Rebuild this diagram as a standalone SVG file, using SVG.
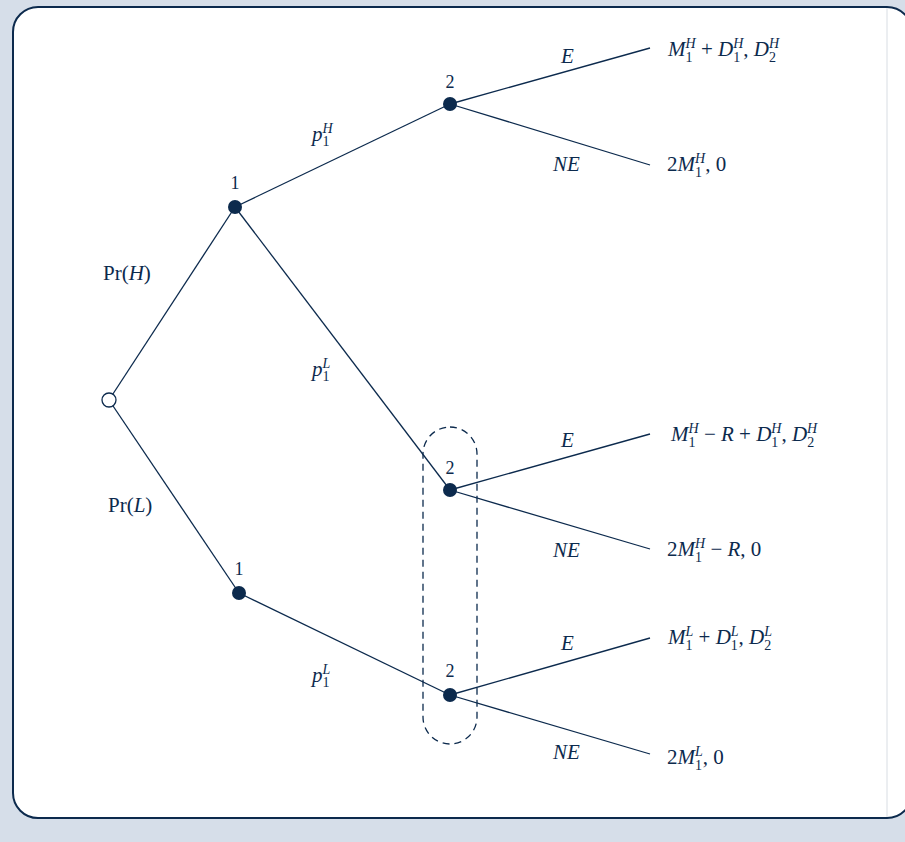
<svg xmlns="http://www.w3.org/2000/svg" width="905" height="842" viewBox="0 0 905 842">
<style>
.t{font-family:"Liberation Serif","DejaVu Serif",serif;font-size:21px;fill:#0c2a4d}
.n{font-family:"Liberation Serif","DejaVu Serif",serif;font-size:18px;fill:#0c2a4d;text-anchor:middle}
.i{font-style:italic}
.s{font-size:14px;font-style:italic}
.d{font-size:14px}
.edge{stroke:#0c2a4d;stroke-width:1.3;fill:none}
.dot{fill:#0c2a4d}
</style>
<rect x="0" y="0" width="905" height="842" fill="#d6dee9"/>
<rect x="13" y="7" width="899" height="811" rx="25" fill="#ffffff" stroke="#0c2a4d" stroke-width="2"/>
<line x1="887" y1="8" x2="887" y2="817" stroke="#d8dde3" stroke-width="1"/>
<g id="connectors">
<line class="edge" x1="109" y1="400" x2="235" y2="207"/>
<line class="edge" x1="109" y1="400" x2="239" y2="593"/>
<line class="edge" x1="235" y1="207" x2="450" y2="104"/>
<line class="edge" x1="235" y1="207" x2="450" y2="490"/>
<line class="edge" x1="239" y1="593" x2="450" y2="695"/>
<line class="edge" x1="450" y1="104" x2="650" y2="48"/>
<line class="edge" x1="450" y1="104" x2="650" y2="165"/>
<line class="edge" x1="450" y1="490" x2="650" y2="434"/>
<line class="edge" x1="450" y1="490" x2="650" y2="549"/>
<line class="edge" x1="450" y1="695" x2="650" y2="638"/>
<line class="edge" x1="450" y1="695" x2="650" y2="754"/>
</g>
<g id="infoset">
<rect x="423" y="427" width="54" height="317" rx="27" fill="none" stroke="#0c2a4d" stroke-width="1.3" stroke-dasharray="7,5"/>
</g>
<g id="root"><circle cx="109" cy="400" r="7" fill="#ffffff" stroke="#0c2a4d" stroke-width="1.3"/></g>
<g id="n1H"><circle class="dot" cx="235" cy="207" r="7"/><text class="n" x="235" y="189">1</text></g>
<g id="n1L"><circle class="dot" cx="239" cy="593" r="7"/><text class="n" x="239" y="575">1</text></g>
<g id="n2top"><circle class="dot" cx="450" cy="104" r="7"/><text class="n" x="450" y="88">2</text></g>
<g id="n2mid"><circle class="dot" cx="450" cy="490" r="7"/><text class="n" x="450" y="474">2</text></g>
<g id="n2bot"><circle class="dot" cx="450" cy="695" r="7"/><text class="n" x="450" y="677">2</text></g>
<g id="branch-labels">
<text class="t" x="103" y="280">Pr(<tspan class="i">H</tspan>)</text>
<text class="t" x="108" y="512">Pr(<tspan class="i">L</tspan>)</text>
<text class="t" x="312" y="141"><tspan class="i">p</tspan><tspan class="s" dy="-8">H</tspan><tspan class="d" dx="-10.1" dy="13">1</tspan></text>
<text class="t" x="312" y="376"><tspan class="i">p</tspan><tspan class="s" dy="-8">L</tspan><tspan class="d" dx="-7.8" dy="13">1</tspan></text>
<text class="t" x="312" y="682"><tspan class="i">p</tspan><tspan class="s" dy="-8">L</tspan><tspan class="d" dx="-7.8" dy="13">1</tspan></text>
<text class="t i" x="561" y="63">E</text>
<text class="t i" x="553" y="171">NE</text>
<text class="t i" x="561" y="447">E</text>
<text class="t i" x="553" y="557">NE</text>
<text class="t i" x="561" y="650">E</text>
<text class="t i" x="553" y="759">NE</text>
</g>
<g id="payoff1"><text class="t" x="668" y="56"><tspan class="i">M</tspan><tspan class="s" dy="-8">H</tspan><tspan class="d" dx="-10.1" dy="14">1</tspan><tspan dx="3.1" dy="-6"> + </tspan><tspan class="i">D</tspan><tspan class="s" dy="-8">H</tspan><tspan class="d" dx="-10.1" dy="14">1</tspan><tspan dx="3.1" dy="-6">, </tspan><tspan class="i">D</tspan><tspan class="s" dy="-8">H</tspan><tspan class="d" dx="-10.1" dy="14">2</tspan></text></g>
<g id="payoff2"><text class="t" x="667" y="171">2<tspan class="i">M</tspan><tspan class="s" dy="-8">H</tspan><tspan class="d" dx="-10.1" dy="14">1</tspan><tspan dx="3.1" dy="-6">, 0</tspan></text></g>
<g id="payoff3"><text class="t" x="671" y="441"><tspan class="i">M</tspan><tspan class="s" dy="-8">H</tspan><tspan class="d" dx="-10.1" dy="14">1</tspan><tspan dx="3.1" dy="-6"> − </tspan><tspan class="i">R</tspan><tspan> + </tspan><tspan class="i">D</tspan><tspan class="s" dy="-8">H</tspan><tspan class="d" dx="-10.1" dy="14">1</tspan><tspan dx="3.1" dy="-6">, </tspan><tspan class="i">D</tspan><tspan class="s" dy="-8">H</tspan><tspan class="d" dx="-10.1" dy="14">2</tspan></text></g>
<g id="payoff4"><text class="t" x="667" y="556">2<tspan class="i">M</tspan><tspan class="s" dy="-8">H</tspan><tspan class="d" dx="-10.1" dy="14">1</tspan><tspan dx="3.1" dy="-6"> − </tspan><tspan class="i">R</tspan><tspan>, 0</tspan></text></g>
<g id="payoff5"><text class="t" x="668" y="644"><tspan class="i">M</tspan><tspan class="s" dy="-8">L</tspan><tspan class="d" dx="-7.8" dy="14">1</tspan><tspan dx="0.8" dy="-6"> + </tspan><tspan class="i">D</tspan><tspan class="s" dy="-8">L</tspan><tspan class="d" dx="-7.8" dy="14">1</tspan><tspan dx="0.8" dy="-6">, </tspan><tspan class="i">D</tspan><tspan class="s" dy="-8">L</tspan><tspan class="d" dx="-7.8" dy="14">2</tspan></text></g>
<g id="payoff6"><text class="t" x="667" y="764">2<tspan class="i">M</tspan><tspan class="s" dy="-8">L</tspan><tspan class="d" dx="-7.8" dy="14">1</tspan><tspan dx="0.8" dy="-6">, 0</tspan></text></g>
</svg>
